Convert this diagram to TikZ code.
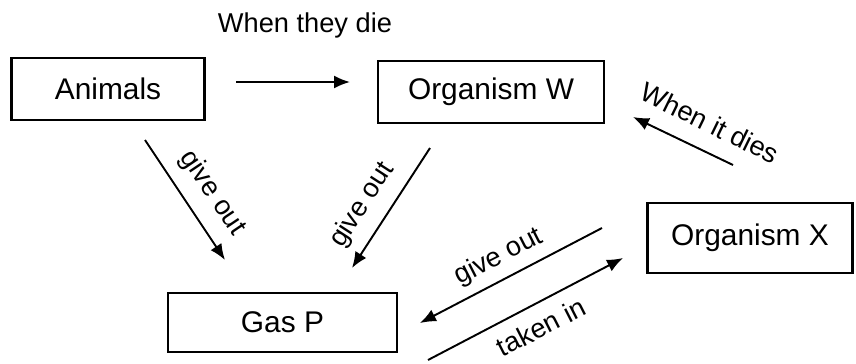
\documentclass[tikz,border=0pt]{standalone}
\usepackage{fontspec}
\setmainfont{Liberation Sans}
\usetikzlibrary{arrows.meta}

\begin{document}
\begin{tikzpicture}[
    font=\fontsize{15.5}{18}\selectfont,
    box/.style={draw, line width=1.3pt, inner sep=0pt, font=\fontsize{17}{20}\selectfont},
    flow/.style={-{Latex[length=3.2mm,width=2.6mm]}, line width=1.1pt}
  ]
      \useasboundingbox (0, 0) rectangle (17.12, 7.26);
      \node[box, minimum width=3.86cm, minimum height=1.24cm] (anim) at (2.16, 5.48) {Animals};
      \node[box, minimum width=4.52cm, minimum height=1.24cm] (orgw) at (9.82, 5.42) {Organism W};
      \node[box, minimum width=4.1cm, minimum height=1.4cm] (orgx) at (15.0, 2.5) {Organism X};
      \node[box, minimum width=4.58cm, minimum height=1.18cm] (gasp) at (5.65, 0.81) {Gas P};
      \node (die) at (6.1, 6.76) {When they die};
      \node[rotate=-56] (agive) at (4.25, 3.4) {give out};
      \node[rotate=57] (wgive) at (7.25, 3.16) {give out};
      \node[rotate=-26] (xdie) at (14.2, 4.8) {When it dies};
      \node[rotate=27] (xgive) at (9.98, 2.12) {give out};
      \node[rotate=27, inner sep=1pt] (xtake) at (10.82, 0.72) {taken in};
      \coordinate (d1) at (4.72, 5.62);
      \coordinate (d2) at (7.0, 5.62);
      \coordinate (a1) at (2.9, 4.46);
      \coordinate (a2) at (4.5, 2.06);
      \coordinate (w1) at (8.6, 4.3);
      \coordinate (w2) at (7.04, 1.9);
      \coordinate (x1) at (14.66, 3.96);
      \coordinate (x2) at (12.66, 4.92);
      \coordinate (g1) at (12.04, 2.7);
      \coordinate (g2) at (8.4, 0.8);
      \coordinate (t1) at (8.56, 0.06);
      \coordinate (t2) at (12.46, 2.1);
      \draw[flow] (d1) -- (d2);
      \draw[flow] (a1) -- (a2);
      \draw[flow] (w1) -- (w2);
      \draw[flow] (x1) -- (x2);
      \draw[flow] (g1) -- (g2);
      \draw[flow] (t1) -- (t2);
    \end{tikzpicture}
\end{document}
